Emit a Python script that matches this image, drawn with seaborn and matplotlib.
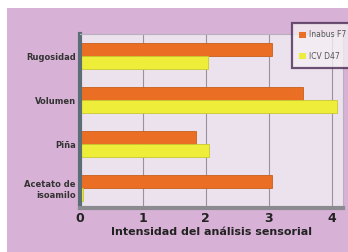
import matplotlib
matplotlib.use("Agg")
import matplotlib.pyplot as plt
import seaborn as sns
import pandas as pd
from matplotlib.patches import Rectangle, Patch

categories = ["Rugosidad", "Volumen", "Piña", "Acetato de\nisoamilo"]
series_names = ["Inabus F7", "ICV D47"]
values_a = [3.05, 3.55, 1.85, 3.05]
values_b = [2.03, 4.08, 2.05, 0.05]
xticks = [0, 1, 2, 3, 4]
xlabel = "Intensidad del análisis sensorial"

df = pd.DataFrame({
    "cat": categories * 2,
    "serie": [series_names[0]] * 4 + [series_names[1]] * 4,
    "val": values_a + values_b,
})

sns.set_style("white")
plt.rcParams["font.family"] = ["DejaVu Sans"]

fig = plt.figure(figsize=(3.48, 2.52), dpi=100)
fig.patch.set_facecolor("#D8B2D6")
fig.patches.append(Rectangle((0, 1 - 8 / 252), 1, 8 / 252, transform=fig.transFigure,
                             facecolor="white", edgecolor="none", zorder=0))
fig.patches.append(Rectangle((0, 0), 7 / 348, 1, transform=fig.transFigure,
                             facecolor="white", edgecolor="none", zorder=0))

ax = fig.add_axes([80 / 348, 44 / 252, 263 / 348, 174 / 252])
ax.set_facecolor("#ECE2EE")

palette = {series_names[0]: "#EA6E24", series_names[1]: "#EEEE3A"}
edges = {series_names[0]: "#C8601C", series_names[1]: "#C8C830"}
sns.barplot(data=df, y="cat", x="val", hue="serie", orient="h", palette=palette,
            width=0.6, ax=ax, legend=False, saturation=1, linewidth=0.6)
for cont, name in zip(ax.containers, series_names):
    for p in cont:
        p.set_edgecolor(edges[name])

ax.set_xlim(0, 4.18)
ax.set_ylim(3.45, -0.5)
ax.set_xticks(xticks)
ax.set_xticklabels([str(t) for t in xticks], fontsize=9, fontweight="bold", color="#222222")
ax.set_yticklabels(categories, fontsize=6, fontweight="bold", color="#333333",
                   multialignment="right")
ax.tick_params(axis="both", length=0, pad=3)
ax.set_ylabel("")
ax.set_xlabel(xlabel, fontsize=8, fontweight="bold", color="#222222", labelpad=1)
ax.grid(axis="x", color="#9A90A0", linewidth=0.8)
ax.set_axisbelow(True)
for s in ["top", "right"]:
    ax.spines[s].set_color("#B8B0C0")
    ax.spines[s].set_linewidth(0.8)
ax.spines["left"].set_color("#5A6E78")
ax.spines["left"].set_linewidth(3)
ax.spines["bottom"].set_color("#8A8A90")
ax.spines["bottom"].set_linewidth(3)

handles = [Patch(facecolor=palette[n], edgecolor="none") for n in series_names]
leg = fig.legend(handles, series_names, loc="upper left",
                 bbox_to_anchor=(288 / 348, 1 - 19 / 252), fontsize=5.5,
                 frameon=True, fancybox=False, handlelength=0.8, handleheight=0.8,
                 handletextpad=0.4, borderpad=1.0, labelspacing=1.6)
leg.get_frame().set_edgecolor("#4A2A55")
leg.get_frame().set_linewidth(1.6)
leg.get_frame().set_facecolor("#F4EEF2")
for t in leg.get_texts():
    t.set_color("#555555")

fig.savefig("out.png", dpi=100, facecolor=fig.get_facecolor())
